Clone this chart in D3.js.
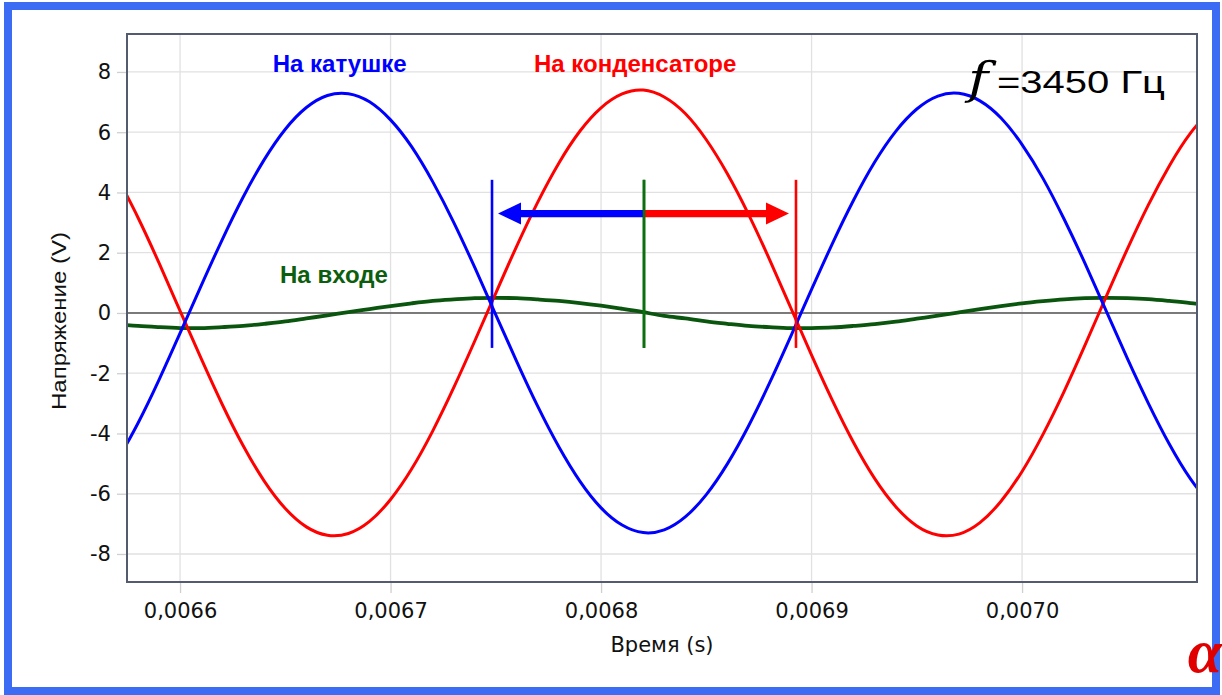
<!DOCTYPE html>
<html>
<head>
<meta charset="utf-8">
<script src="https://cdn.jsdelivr.net/npm/d3@7"></script>
<style>
html,body{margin:0;padding:0;background:#fff;}
svg{display:block;}
</style>
</head>
<body>
<svg id="chart" width="1222" height="695"></svg>
<script>
// ---- data ----
const times = [0.00657,0.00658,0.00659,0.00660,0.00661,0.00662,0.00663,0.00664,0.00665,0.00666,
  0.00667,0.00668,0.00669,0.00670,0.00671,0.00672,0.00673,0.00674,0.00675,0.00676,
  0.00677,0.00678,0.00679,0.00680,0.00681,0.00682,0.00683,0.00684,0.00685,0.00686,
  0.00687,0.00688,0.00689,0.00690,0.00691,0.00692,0.00693,0.00694,0.00695,0.00696,
  0.00697,0.00698,0.00699,0.00700,0.00701,0.00702,0.00703,0.00704,0.00705,0.00706,
  0.00707,0.00708,0.00709];
const coilV = [-4.93,-3.66,-2.22,-0.67,0.90,2.43,3.85,5.09,6.10,6.82,
  7.22,7.28,7.01,6.41,5.52,4.36,3.01,1.51,-0.06,-1.62,
  -3.11,-4.45,-5.59,-6.47,-7.04,-7.29,-7.20,-6.77,-6.03,-5.01,
  -3.76,-2.33,-0.79,0.78,2.32,3.75,5.01,6.03,6.77,7.20,
  7.29,7.04,6.47,5.59,4.46,3.11,1.63,0.06,-1.51,-3.00,
  -4.36,-5.51,-6.41];
const capV = [4.53,3.17,1.66,0.07,-1.51,-3.03,-4.41,-5.58,-6.49,-7.10,
  -7.38,-7.32,-6.92,-6.19,-5.18,-3.92,-2.48,-0.93,0.66,2.23,
  3.69,4.98,6.04,6.81,7.27,7.40,7.17,6.62,5.75,4.62,
  3.28,1.78,0.19,-1.40,-2.92,-4.31,-5.50,-6.43,-7.07,-7.37,
  -7.34,-6.96,-6.25,-5.26,-4.02,-2.60,-1.05,0.55,2.12,3.59,
  4.89,5.97,6.77];
const inputV = [-0.37,-0.43,-0.47,-0.50,-0.50,-0.47,-0.43,-0.36,-0.28,-0.18,
  -0.08,0.03,0.13,0.23,0.32,0.40,0.45,0.49,0.50,0.49,
  0.45,0.40,0.33,0.24,0.14,0.03,-0.10,-0.18,-0.28,-0.36,
  -0.43,-0.47,-0.50,-0.50,-0.48,-0.43,-0.37,-0.29,-0.19,-0.09,
  0.02,0.13,0.23,0.32,0.39,0.45,0.49,0.50,0.49,0.46,
  0.40,0.33,0.24];

const xTickValues = [0.0066,0.0067,0.0068,0.0069,0.0070];
const xTickLabels = ["0,0066","0,0067","0,0068","0,0069","0,0070"];
const yTickValues = [-8,-6,-4,-2,0,2,4,6,8];
const yTickLabels = ["-8","-6","-4","-2","0","2","4","6","8"];

const seriesNames = ["На катушке","На конденсаторе","На входе"];
const markerTimes = [0.0067482, 0.0068204, 0.0068926];   // blue, green, red cursors
const markerRange = [-1.16, 4.42];
const arrowLevel = 3.3;
const xDomain = [0.0065748, 0.0070831];
const yDomain = [-8.93, 9.26];

// ---- layout ----
const W = 1222, H = 695;
const P = {left:127, top:34, right:1197, bottom:582};
const svg = d3.select("#chart");

const x = d3.scaleLinear().domain(xDomain).range([P.left, P.right]);
const y = d3.scaleLinear().domain(yDomain).range([P.bottom, P.top]);

// outer blue frame
svg.append("rect").attr("x",8).attr("y",6).attr("width",1208).attr("height",685)
  .attr("fill","#fff").attr("stroke","#3d6cf4").attr("stroke-width",8);

// grid
const grid = svg.append("g");
grid.selectAll("line.v").data(xTickValues).join("line")
  .attr("x1",d=>x(d)).attr("x2",d=>x(d)).attr("y1",P.top).attr("y2",P.bottom)
  .attr("stroke","#e1e1e1").attr("stroke-width",1.3);
grid.selectAll("line.h").data(yTickValues).join("line")
  .attr("x1",P.left).attr("x2",P.right).attr("y1",d=>y(d)).attr("y2",d=>y(d))
  .attr("stroke","#e1e1e1").attr("stroke-width",1.3);

// axes
const xAxis = svg.append("g").attr("transform",`translate(0,${P.bottom})`)
  .call(d3.axisBottom(x).tickValues(xTickValues).tickFormat((d,i)=>xTickLabels[i]).tickSize(11));
xAxis.select(".domain").remove();
xAxis.selectAll(".tick line").attr("stroke","#cfcfcf").attr("stroke-width",1.3);
xAxis.selectAll(".tick text").attr("y",36).attr("dy",null)
  .attr("font-family","DejaVu Sans").attr("font-size",21).attr("fill","#111");

const yAxis = svg.append("g").attr("transform",`translate(${P.left},0)`)
  .call(d3.axisLeft(y).tickValues(yTickValues).tickFormat((d,i)=>yTickLabels[i]).tickSize(10));
yAxis.select(".domain").remove();
yAxis.selectAll(".tick line").attr("stroke","#cfcfcf").attr("stroke-width",1.3);
yAxis.selectAll(".tick text").attr("x",-16).attr("dy","0.33em")
  .attr("font-family","DejaVu Sans").attr("font-size",21).attr("fill","#111");

// zero line
svg.append("line").attr("x1",P.left).attr("x2",P.right).attr("y1",y(0)).attr("y2",y(0))
  .attr("stroke","#555").attr("stroke-width",1.5);

// clip
svg.append("clipPath").attr("id","clip").append("rect")
  .attr("x",P.left).attr("y",P.top).attr("width",P.right-P.left).attr("height",P.bottom-P.top);
const plot = svg.append("g").attr("clip-path","url(#clip)");

const line = d3.line().x(d=>x(d[0])).y(d=>y(d[1])).curve(d3.curveNatural);
const series = [
  {vals:inputV, color:"#0b560e", w:3.8},
  {vals:capV, color:"#ff0000", w:3},
  {vals:coilV, color:"#0000ff", w:3}
];
series.forEach(s=>{
  plot.append("path").datum(times.map((t,i)=>[t,s.vals[i]]))
    .attr("d",line).attr("fill","none").attr("stroke",s.color).attr("stroke-width",s.w)
    .attr("stroke-linejoin","round");
});

// frame of plot area
svg.append("rect").attr("x",P.left).attr("y",P.top).attr("width",P.right-P.left).attr("height",P.bottom-P.top)
  .attr("fill","none").attr("stroke","#555b6e").attr("stroke-width",2);

// cursors
const markerColors = ["#0000ff","#0d6e10","#ff0000"];
svg.selectAll("line.marker").data(markerTimes).join("line")
  .attr("x1",d=>x(d)).attr("x2",d=>x(d)).attr("y1",y(markerRange[1])).attr("y2",y(markerRange[0]))
  .attr("stroke",(d,i)=>markerColors[i]).attr("stroke-width",2.6);

// arrows
function arrow(x0, xTip, yv, color){
  const dir = Math.sign(xTip - x0);
  const head = 23, half = 11, shaft = 3.6;
  const xb = xTip - dir*head;
  const p = d3.path();
  p.moveTo(x0, yv-shaft); p.lineTo(xb, yv-shaft); p.lineTo(xb, yv-half);
  p.lineTo(xTip, yv); p.lineTo(xb, yv+half); p.lineTo(xb, yv+shaft); p.lineTo(x0, yv+shaft); p.closePath();
  svg.append("path").attr("d",p.toString()).attr("fill",color);
}
arrow(x(markerTimes[1]), x(markerTimes[0])+6, y(arrowLevel), "#0000ff");
arrow(x(markerTimes[1]), x(markerTimes[2])-7, y(arrowLevel), "#ff0000");
svg.append("line").attr("x1",x(markerTimes[1])).attr("x2",x(markerTimes[1]))
  .attr("y1",y(markerRange[1])).attr("y2",y(markerRange[0]))
  .attr("stroke","#0d6e10").attr("stroke-width",2.6);

// series labels
const labels = [
  {text:seriesNames[0], t:0.0066758, v:8.0, color:"#0000ff", anchor:"middle"},
  {text:seriesNames[1], t:0.0068162, v:8.0, color:"#ff0000", anchor:"middle"},
  {text:seriesNames[2], t:0.0066475, v:1.0, color:"#0c5e0e", anchor:"start"}
];
svg.selectAll("text.lbl").data(labels).join("text")
  .attr("x",d=>x(d.t)).attr("y",d=>y(d.v)).attr("text-anchor",d=>d.anchor)
  .attr("font-family","Liberation Sans, Arial, sans-serif").attr("font-weight","bold")
  .attr("font-size",24).attr("fill",d=>d.color).text(d=>d.text);

// axis titles
svg.append("text").attr("x",(P.left+P.right)/2).attr("y",652).attr("text-anchor","middle")
  .attr("font-family","DejaVu Sans").attr("font-size",21).attr("fill","#111").text("Время (s)");
svg.append("text").attr("transform","translate(66,321) rotate(-90)").attr("text-anchor","middle")
  .attr("font-family","Liberation Sans, Arial, sans-serif").attr("font-size",21).attr("fill","#111")
  .attr("textLength",178).attr("lengthAdjust","spacingAndGlyphs").text("Напряжение (V)");

// frequency label
svg.append("text").attr("transform","translate(968,94) scale(1.25,1)")
  .attr("font-family","DejaVu Serif, serif").attr("font-style","italic").attr("font-size",44)
  .attr("font-weight","300").attr("fill","#000").text("f");
svg.append("text").attr("x",997).attr("y",93)
  .attr("font-family","Liberation Sans, Arial, sans-serif").attr("font-size",31).attr("fill","#000")
  .attr("textLength",168).attr("lengthAdjust","spacingAndGlyphs").text("=3450 Гц");

// logo
svg.append("text").attr("x",1222).attr("y",672).attr("text-anchor","end")
  .attr("font-family","Liberation Serif, serif").attr("font-style","italic").attr("font-weight","bold")
  .attr("font-size",62).attr("fill","#e00000").text("α");
</script>
</body>
</html>
